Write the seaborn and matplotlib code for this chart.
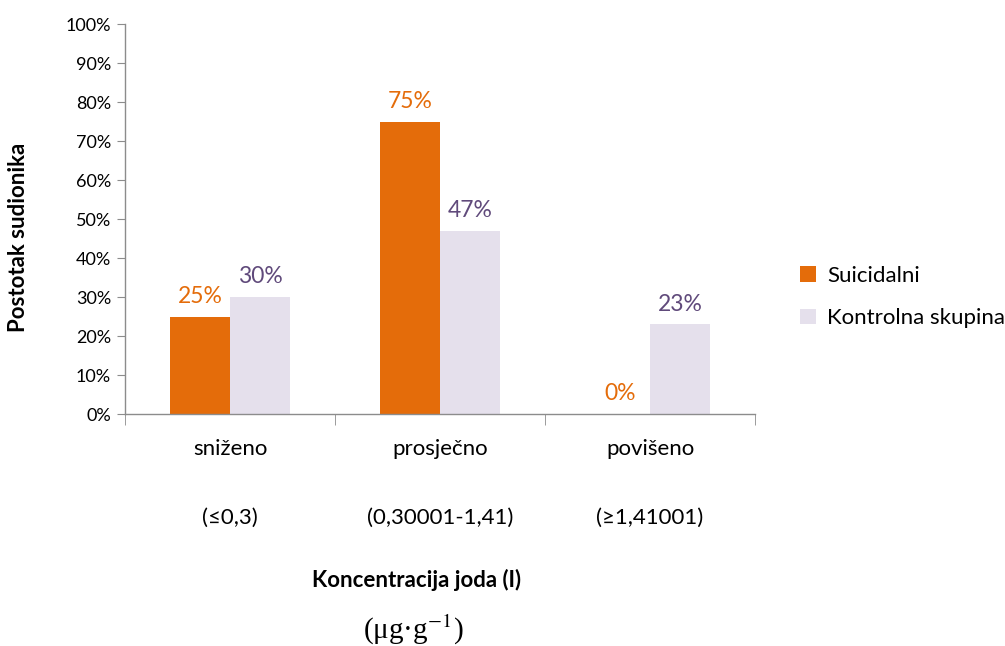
import pandas as pd
import matplotlib.pyplot as plt
import seaborn as sns
from matplotlib.ticker import FixedLocator, FuncFormatter

# data
kategorije = ["sniženo\n\n(≤0,3)", "prosječno\n\n(0,30001-1,41)", "povišeno\n\n(≥1,41001)"]
skupine = ["Suicidalni", "Kontrolna skupina"]
suicidalni = [25, 75, 0]
kontrolna = [30, 47, 23]

df = pd.DataFrame({
    "kategorija": kategorije * 2,
    "skupina": [skupine[0]] * 3 + [skupine[1]] * 3,
    "postotak": suicidalni + kontrolna,
})

sns.set_style("white")
plt.rcParams["font.family"] = ["Lato", "DejaVu Sans"]
plt.rcParams["mathtext.fontset"] = "stix"
plt.rcParams["text.color"] = "black"
plt.rcParams["xtick.color"] = "black"
plt.rcParams["ytick.color"] = "black"

orange = "#E46C0A"
lavender = "#E5E0EC"
label_colors = [orange, "#604A7B"]
grey = "#8C8C8C"

fig = plt.figure(figsize=(10.05, 6.46), dpi=100)
ax = fig.add_axes([0.1244, 0.3591, 0.6269, 0.6037])

sns.barplot(data=df, x="kategorija", y="postotak", hue="skupina",
            palette=[orange, lavender], saturation=1, width=0.574, gap=0,
            linewidth=0, ax=ax)

# value labels
for cont, col, vals in zip(ax.containers, label_colors, [suicidalni, kontrolna]):
    ax.bar_label(cont, labels=[f"{v}%" for v in vals], padding=7,
                 color=col, fontsize=16.5)

ax.set_ylim(0, 100)
ax.set_xlim(-0.5, 2.5)
ax.set_yticks(range(0, 101, 10))
ax.yaxis.set_major_formatter(FuncFormatter(lambda v, p: f"{v:.0f}%"))
ax.tick_params(axis="y", which="major", left=True, length=6, color=grey,
               labelsize=13, pad=4)
ax.tick_params(axis="x", which="major", length=0, labelsize=16, pad=18)
ax.xaxis.set_minor_locator(FixedLocator([-0.5, 0.5, 1.5, 2.5]))
ax.tick_params(axis="x", which="minor", bottom=True, length=8, color=grey)
for t in ax.get_xticklabels():
    t.set_linespacing(1.9)
    t.set_verticalalignment("top")

ax.set_xlabel("")
ax.set_ylabel("")
for s in ["top", "right"]:
    ax.spines[s].set_visible(False)
for s in ["left", "bottom"]:
    ax.spines[s].set_color(grey)
    ax.spines[s].set_linewidth(1)

ax.legend(loc="center left", bbox_to_anchor=(1.04, 0.30), frameon=False,
          fontsize=16, handlelength=0.7, handleheight=0.7,
          handletextpad=0.5, labelspacing=1.0)

fig.text(0.018, 0.632, "Postotak sudionika", rotation=90, ha="center",
         va="center", fontsize=16, fontweight="bold")
fig.text(0.414, 0.102, "Koncentracija joda (I)", ha="center", va="center",
         fontsize=16, fontweight="bold")
fig.text(0.411, 0.025, "(μg·g$^{-1}$)", ha="center", va="center",
         fontsize=21, family=["Liberation Serif", "DejaVu Serif"])

fig.savefig("out.png", dpi=100)
